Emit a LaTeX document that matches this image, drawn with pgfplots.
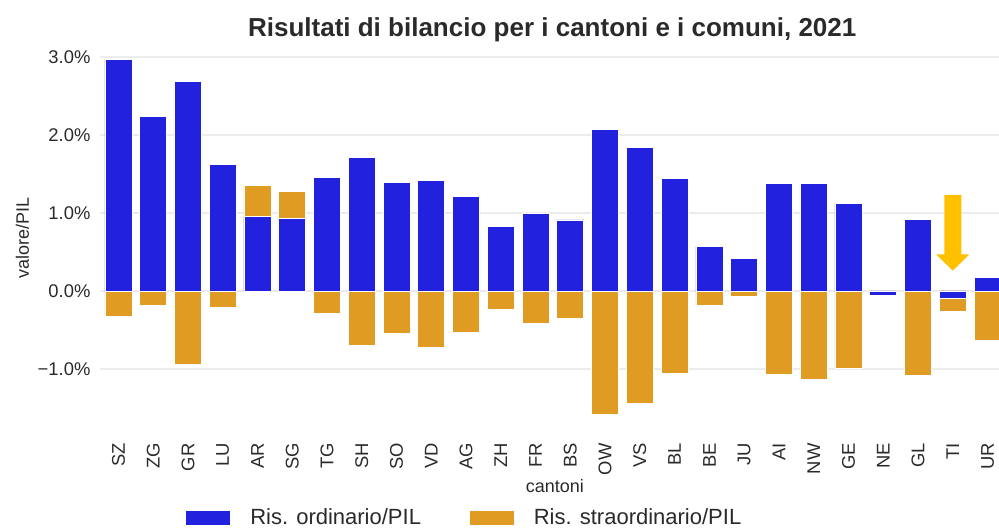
\documentclass[border=0pt]{standalone}
\usepackage{pgfplots}
\pgfplotsset{compat=1.18}
\usepackage{fontspec}
\setmainfont{Liberation Sans}
\definecolor{ordblu}{RGB}{33,33,222}
\definecolor{strorg}{RGB}{224,155,34}
\definecolor{arrowyel}{RGB}{255,192,0}
\definecolor{txtgray}{RGB}{42,42,42}
\definecolor{gridgray}{RGB}{236,236,236}

\begin{document}
\begin{tikzpicture}
\useasboundingbox (0,0) rectangle (499.5pt,263.5pt);
\begin{axis}[
  at={(50pt,52.5pt)}, anchor=south west,
  scale only axis, width=449.5pt, height=184.5pt,
  xmin=-0.53, xmax=25.33, ymin=-1.68, ymax=3.05,
  axis line style={draw=none},
  major tick length=0pt,
  ymajorgrids=true, grid style={gridgray, line width=0.6pt},
  xtick={0,...,25},
  xticklabels={SZ,ZG,GR,LU,AR,SG,TG,SH,SO,VD,AG,ZH,FR,BS,OW,VS,BL,BE,JU,AI,NW,GE,NE,GL,TI,UR},
  ytick={-1,0,1,2,3},
  yticklabels={−1.0\%,0.0\%,1.0\%,2.0\%,3.0\%},
  ticklabel style={font=\fontsize{9.2}{11}\selectfont, text=txtgray, inner sep=0pt},
  xticklabel style={rotate=90, anchor=east},
  xticklabel shift=10.5pt,
  yticklabel style={anchor=east},
  yticklabel shift=4.6pt,
  clip=false,
  reverse legend,
  legend columns=2,
  legend style={at={(0.0946,-0.259)}, anchor=west, draw=none, fill=none,
    inner sep=0pt, font=\fontsize{11}{13}\selectfont, text=txtgray,
    nodes={inner sep=0pt},
    /tikz/every odd column/.append style={column sep=9.5pt},
    /tikz/every even column/.append style={column sep=24pt}},
  legend cell align=left,
  legend image code/.code={\fill[#1] (0pt,-3.75pt) rectangle (22.5pt,3.75pt);},
]
\addplot[ybar, bar width=0.776, bar shift=0pt, fill=strorg, draw=white, line width=0.4pt]
  coordinates {(0,-0.33) (1,-0.19) (2,-0.94) (3,-0.21) (4,1.35) (5,1.28) (6,-0.29)
  (7,-0.70) (8,-0.54) (9,-0.73) (10,-0.53) (11,-0.24) (12,-0.41) (13,-0.35)
  (14,-1.58) (15,-1.44) (16,-1.06) (17,-0.18) (18,-0.07) (19,-1.07) (20,-1.13)
  (21,-0.99) (23,-1.08) (24,-0.26) (25,-0.63)};
\addlegendentry{Ris. straordinario/PIL}
\addplot[ybar, bar width=0.776, bar shift=0pt, fill=ordblu, draw=white, line width=0.4pt]
  coordinates {(0,2.97) (1,2.24) (2,2.68) (3,1.62) (4,0.95) (5,0.93) (6,1.46)
  (7,1.71) (8,1.39) (9,1.42) (10,1.21) (11,0.83) (12,0.99) (13,0.91)
  (14,2.07) (15,1.84) (16,1.44) (17,0.57) (18,0.42) (19,1.38) (20,1.38)
  (21,1.12) (22,-0.06) (23,0.92) (24,-0.10) (25,0.17)};
\addlegendentry{Ris. ordinario/PIL}
% freccia su TI
\fill[arrowyel] (axis cs:23.756,1.23) -- (axis cs:24.244,1.23) -- (axis cs:24.244,0.47)
  -- (axis cs:24.48,0.47) -- (axis cs:24,0.26) -- (axis cs:23.52,0.47)
  -- (axis cs:23.756,0.47) -- cycle;
\node[anchor=base, font=\bfseries\fontsize{13}{15}\selectfont, text=txtgray]
  at (axis description cs:0.503,1.044) {Risultati di bilancio per i cantoni e i comuni, 2021};
\node[anchor=base, font=\fontsize{9}{11}\selectfont, text=txtgray]
  at (axis description cs:0.506,-0.192) {cantoni};
\node[anchor=base, rotate=90, font=\fontsize{9}{11}\selectfont, text=txtgray]
  at (axis description cs:-0.079,0.5) {valore/PIL};
\end{axis}
\end{tikzpicture}
\end{document}
